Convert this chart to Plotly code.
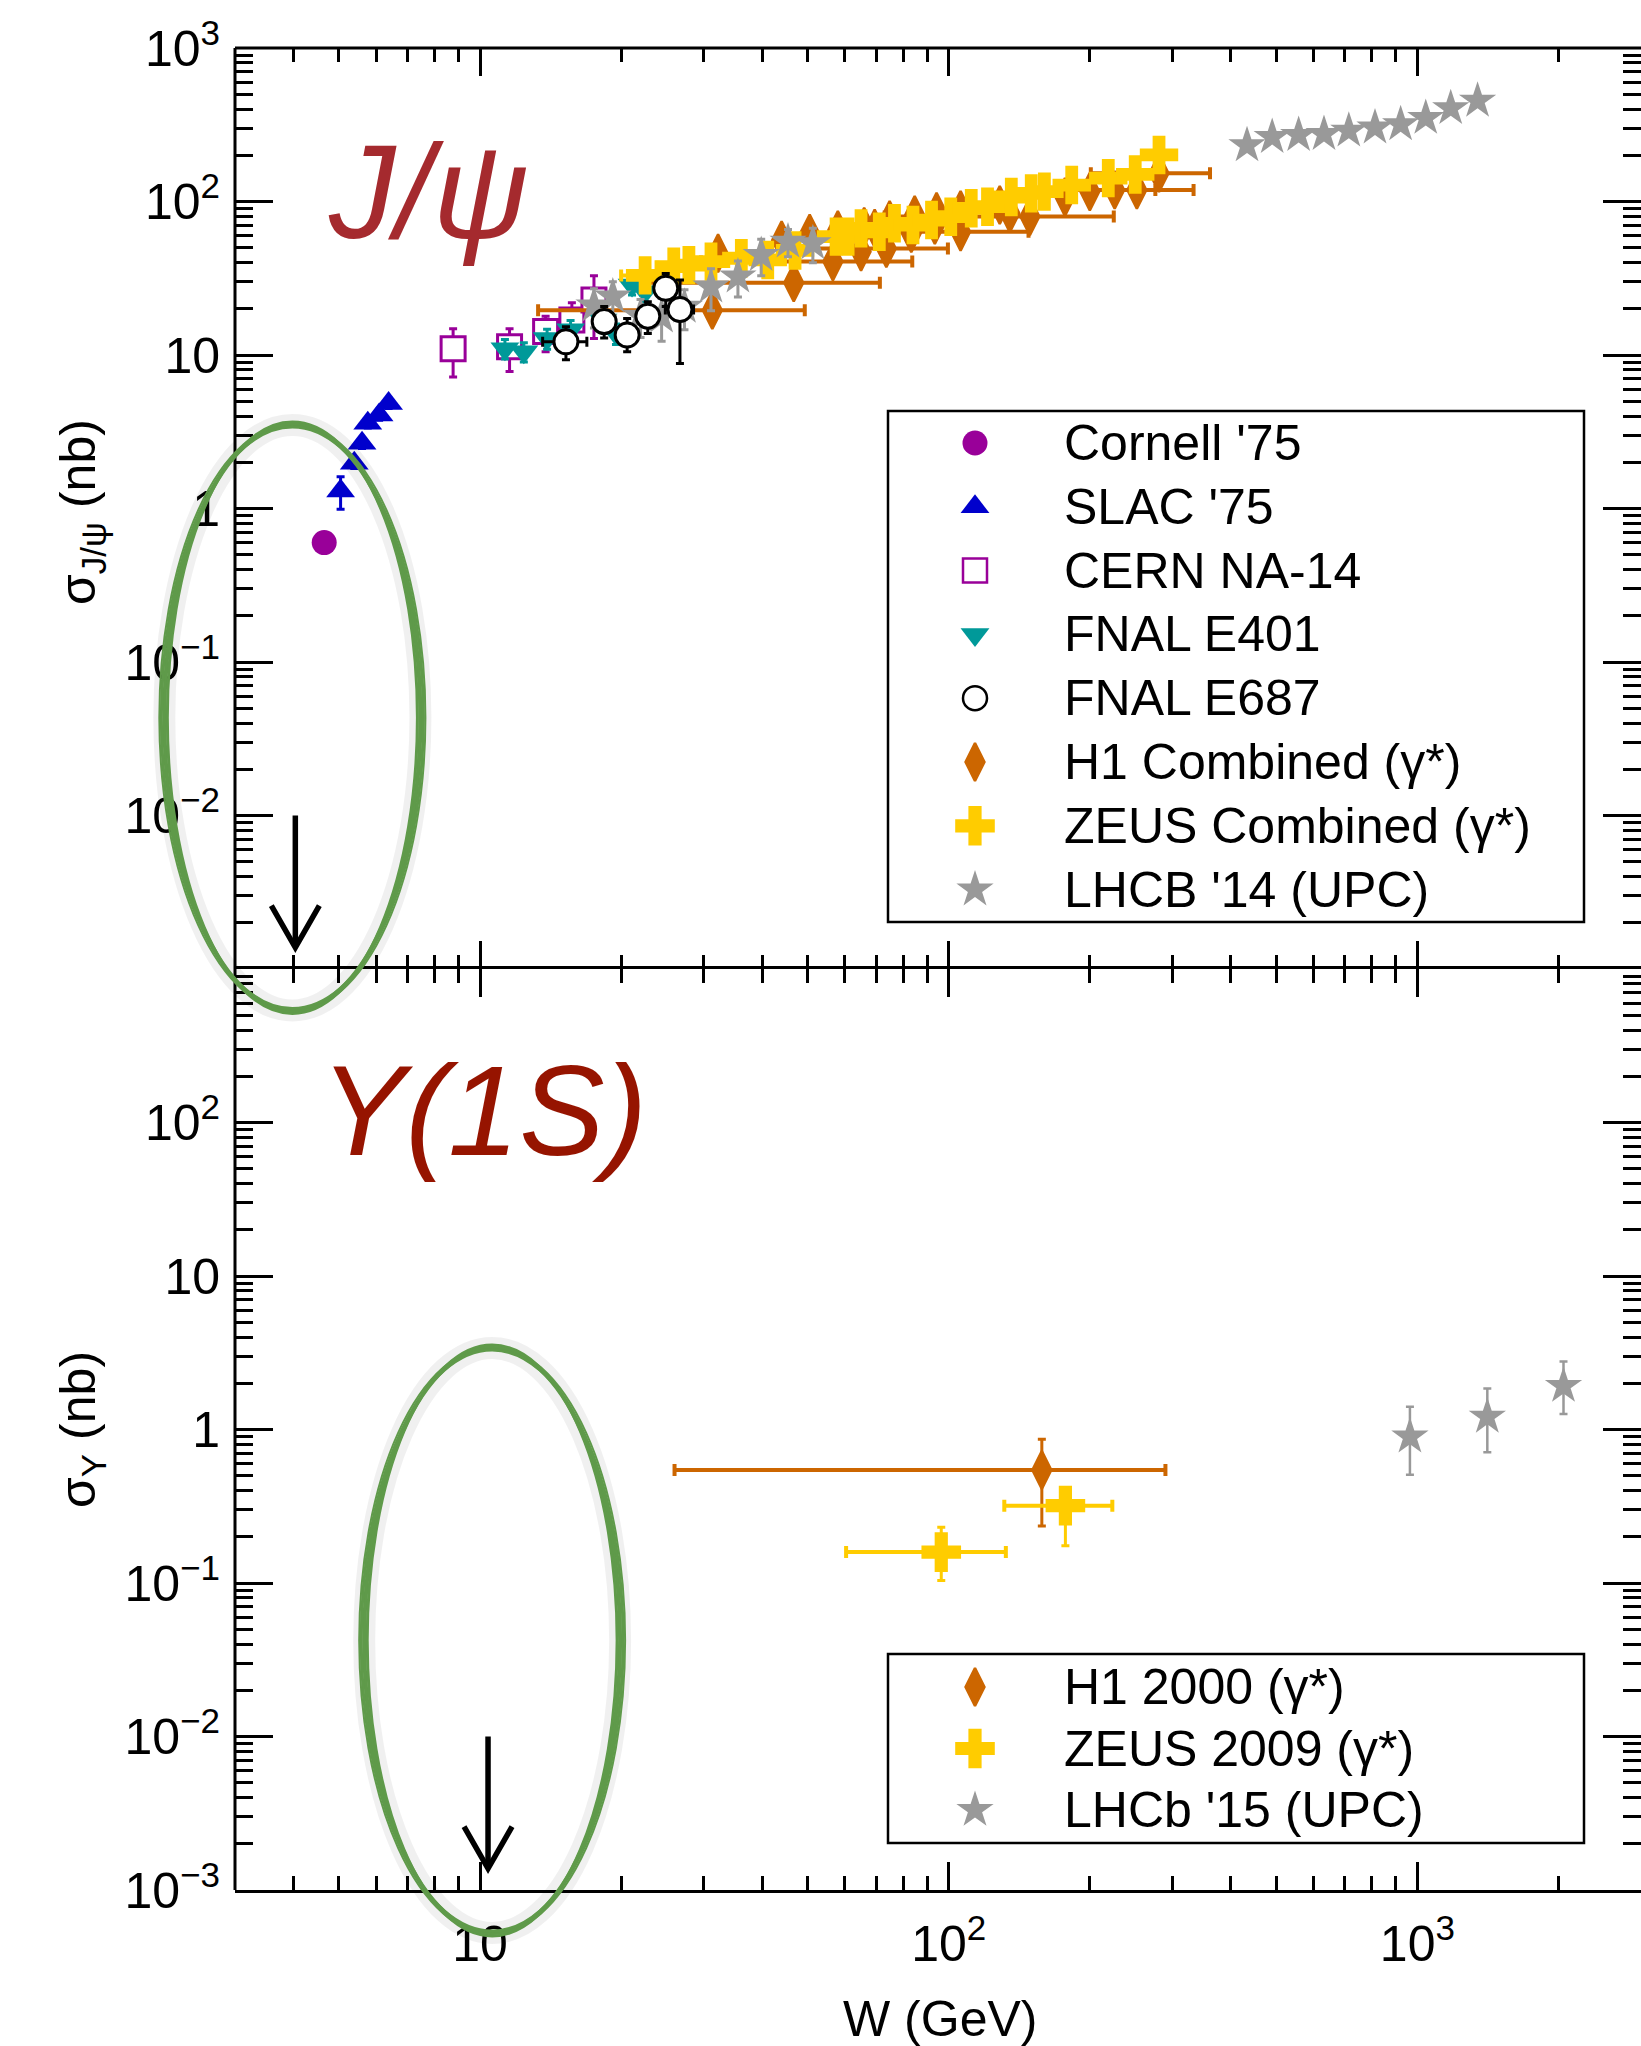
import numpy as np
import plotly.graph_objects as go

# ======================= DATA =======================
# ---- J/psi photoproduction ----
cornell_W = [4.65]
cornell_sig = [0.60]
cornell_err = [0.06]

slac_W = [5.04, 5.39, 5.60, 5.76, 6.09, 6.38]
slac_sig = [1.30, 1.97, 2.66, 3.59, 4.06, 4.84]
slac_err = [0.31, 0.15, 0.20, 0.25, 0.30, 0.35]

na14_W = [8.76, 11.56, 13.8, 15.7, 17.5]
na14_sig = [11.0, 11.3, 14.2, 16.9, 22.8]
na14_err = [3.8, 3.5, 3.7, 5.0, 10.0]

e401_W = [11.3, 12.4, 13.9, 15.6, 18.3, 19.5, 21.1, 22.5]
e401_sig = [11.0, 10.5, 12.8, 14.6, 16.9, 13.8, 28.6, 25.8]
e401_err = [1.6, 1.5, 1.9, 2.2, 2.5, 2.1, 4.0, 3.6]

e687_W = [15.25, 18.4, 20.6, 22.8, 24.9, 26.7]
e687_W_err = [1.65, 0.95, 1.0, 1.0, 1.0, 1.85]
e687_sig = [12.2, 16.5, 13.5, 17.9, 27.2, 19.8]
e687_err_up = [3.1, 4.2, 3.8, 4.3, 6.8, 11.0]
e687_err_dn = [2.9, 3.6, 3.0, 4.1, 6.5, 11.0]

h1_W = [31.3, 32.2, 44.0, 46.7, 50.5, 56.6, 58.0, 65.0, 66.0, 69.5, 73.6, 74.8, 83.2,
        84.6, 93.4, 94.2, 106.0, 106.0, 128.5, 135.0, 149.0, 177.0, 200.0, 226.0, 252.0, 281.0]
h1_W_err = [18.0, 0, 0, 24.6, 0, 27.0, 0, 0, 0, 0, 26.0, 0, 0,
            0, 0, 0, 42.0, 0, 0, 0, 76.0, 0, 0, 50.0, 81.0, 80.0]
h1_sig = [19.6, 46.0, 56.0, 29.6, 62.0, 40.6, 65.2, 47.1, 68.5, 66.8, 49.5, 75.7, 62.1,
          81.6, 70.3, 85.9, 63.5, 88.1, 94.8, 83.7, 80.0, 107.0, 116.0, 119.0, 119.0, 153.0]
h1_err = [1.6, 3.7, 4.5, 2.4, 5.0, 3.2, 5.2, 3.8, 5.5, 5.3, 4.0, 6.1, 5.0,
          6.5, 5.6, 6.9, 5.1, 7.0, 7.6, 6.7, 6.4, 8.6, 9.3, 9.5, 9.5, 12.2]

zeus_W = [22.5, 25.9, 27.9, 31.1, 36.1, 41.1, 47.0, 57.5, 61.0, 65.0, 71.1, 76.6,
          83.9, 91.9, 101.0, 111.7, 121.0, 136.0, 150.0, 160.0, 183.0, 219.0, 250.0, 281.0]
zeus_W_err = [2.5, 2.0, 0, 0, 0, 0, 0, 0, 0, 0, 0, 0,
              0, 0, 0, 0, 0, 0, 0, 0, 0, 0, 0, 0]
zeus_sig = [33.0, 37.6, 38.5, 40.6, 42.7, 41.6, 48.0, 59.0, 59.0, 66.8, 63.5, 72.1,
            70.3, 75.7, 79.6, 90.3, 92.5, 107.0, 113.0, 116.0, 128.0, 142.0, 150.0, 201.0]
zeus_err = [2.3, 2.6, 2.7, 2.8, 3.0, 2.9, 3.4, 4.1, 4.1, 4.7, 4.4, 5.0,
            4.9, 5.3, 5.6, 6.3, 6.5, 7.5, 7.9, 8.1, 9.0, 9.9, 10.5, 14.0]

lhcb14_W = [17.5, 19.2, 22.0, 24.4, 27.3, 31.1, 35.5, 39.8, 45.4, 51.3,
            433, 490, 558, 632, 714, 812, 921, 1042, 1178, 1344]
lhcb14_sig = [21.0, 24.0, 18.0, 17.8, 20.6, 27.9, 32.4, 44.8, 54.7, 53.4,
              232, 263, 271, 275, 289, 303, 318, 350, 405, 453]
lhcb14_err = [6.0, 6.0, 5.0, 5.5, 6.0, 8.5, 8.5, 12.0, 11.0, 13.5,
              12, 13, 13, 14, 14, 15, 16, 17, 20, 22]

# ---- Upsilon(1S) photoproduction ----
h1_2000_W = [158.0]
h1_2000_W_err = [132.0]
h1_2000_sig = [0.545]
h1_2000_err_up = [0.32]
h1_2000_err_dn = [0.31]

zeus09_W = [96.4, 177.4]
zeus09_W_err = [36.0, 46.0]
zeus09_sig = [0.159, 0.319]
zeus09_err_up = [0.072, 0.10]
zeus09_err_dn = [0.055, 0.144]

lhcb15_W = [964.0, 1410.0, 2050.0]
lhcb15_sig = [0.898, 1.21, 1.92]
lhcb15_err_up = [0.51, 0.64, 0.85]
lhcb15_err_dn = [0.39, 0.50, 0.66]

# threshold arrows (W = m_p + m_V) and the highlighted threshold regions
jpsi_threshold_W = 4.035
ups_threshold_W = 10.40
arrow_from_sig, arrow_to_sig = 1.0e-2, 1.38e-3
jpsi_ring_W, jpsi_ring_sig = (2.12, 7.46), (10 ** -3.27, 10 ** 0.544)
ups_ring_W, ups_ring_sig = (5.66, 19.9), (10 ** -3.28, 10 ** 0.531)

# axis ticks
x_major = [10, 100, 1000]
x_major_text = ["10", "10<sup>2</sup>", "10<sup>3</sup>"]
y_top_major = [1e-2, 1e-1, 1, 10, 100, 1000]
y_top_text = ["10<sup>\u22122</sup>", "10<sup>\u22121</sup>", "1", "10", "10<sup>2</sup>", "10<sup>3</sup>"]
y_bot_major = [1e-3, 1e-2, 1e-1, 1, 10, 100]
y_bot_text = ["10<sup>\u22123</sup>", "10<sup>\u22122</sup>", "10<sup>\u22121</sup>", "1", "10", "10<sup>2</sup>"]

# ======================= GEOMETRY / STYLE =======================
FIG_W, FIG_H = 1641, 2046
M_L, M_R, M_T, M_B = 235, 0, 48, 156
PLOT_W = FIG_W - M_L - M_R
PLOT_H = FIG_H - M_T - M_B
X_RANGE = [np.log10(3.0), np.log10(3000.0)]
Y_RANGE = [-3.0, 3.0]
TOP_DOM = [0.5, 1.0]
BOT_DOM = [0.0, 0.5]
FONT = "Liberation Sans, Arial, Helvetica, sans-serif"

PURPLE, BLUE, TEAL = "#990099", "#0000cc", "#009999"
ORANGE, YELLOW, GRAY = "#cc6600", "#ffcc00", "#999999"
GREEN = "#5f9a4a"

x_minor = [k * 10 ** n for n in range(0, 4) for k in range(2, 10) if 3 < k * 10 ** n < 3000]
y_minor = [k * 10.0 ** n for n in range(-3, 3) for k in range(2, 10)]


def paper_x(W):
    return (np.log10(W) - X_RANGE[0]) / (X_RANGE[1] - X_RANGE[0])


def paper_y(sig, dom):
    f = (np.log10(sig) - Y_RANGE[0]) / (Y_RANGE[1] - Y_RANGE[0])
    return dom[0] + f * (dom[1] - dom[0])


def px_x(px):
    return (px - M_L) / PLOT_W


def px_y(py):
    return (FIG_H - M_B - py) / PLOT_H


fig = go.Figure()


def add_series(W, sig, panel, symbol, color, size, err_up=None, err_dn=None, W_err=None,
               line_w=0, fill=None, ethick=3, ecap=4, xthick=4, xcap=6):
    xa, ya = ("x", "y") if panel == "top" else ("x2", "y2")
    marker = dict(symbol=symbol, size=size, color=fill if fill else color,
                  line=dict(width=line_w, color=color))
    kw = {}
    if err_up is not None:
        kw["error_y"] = dict(type="data", symmetric=err_dn is None, array=err_up,
                             arrayminus=err_dn if err_dn is not None else err_up,
                             color=color, thickness=ethick, width=ecap)
    if W_err is not None:
        kw["error_x"] = dict(type="data", array=W_err, color=color, thickness=xthick, width=xcap)
    fig.add_trace(go.Scatter(x=W, y=sig, mode="markers", marker=marker, xaxis=xa, yaxis=ya,
                             showlegend=False, **kw))


# ---- top panel (J/psi) ----
add_series(cornell_W, cornell_sig, "top", "circle", PURPLE, 25, cornell_err)
add_series(slac_W, slac_sig, "top", "triangle-up", BLUE, 25, slac_err)
add_series(na14_W, na14_sig, "top", "square", PURPLE, 24, na14_err, line_w=3, fill="white")
add_series(e401_W, e401_sig, "top", "triangle-down", TEAL, 25, e401_err)
add_series(h1_W, h1_sig, "top", "diamond-tall", ORANGE, 27, h1_err, W_err=h1_W_err, line_w=2.5)
add_series(zeus_W, zeus_sig, "top", "cross", YELLOW, 32, zeus_err, W_err=zeus_W_err)
add_series(lhcb14_W, lhcb14_sig, "top", "star", GRAY, 28, lhcb14_err)
add_series(e687_W, e687_sig, "top", "circle", "black", 24, e687_err_up, e687_err_dn,
           W_err=e687_W_err, line_w=3, fill="white", xthick=3, xcap=5)

# ---- bottom panel (Upsilon) ----
add_series(h1_2000_W, h1_2000_sig, "bot", "diamond-tall", ORANGE, 27, h1_2000_err_up, h1_2000_err_dn,
           W_err=h1_2000_W_err, line_w=2.5)
add_series(zeus09_W, zeus09_sig, "bot", "cross", YELLOW, 33, zeus09_err_up, zeus09_err_dn,
           W_err=zeus09_W_err)
add_series(lhcb15_W, lhcb15_sig, "bot", "star", GRAY, 28, lhcb15_err_up, lhcb15_err_dn, ethick=2.5)

# ======================= LEGENDS (drawn in an overlay frame) =======================
top_legend = [
    ("Cornell '75", "circle", PURPLE, 25, 0, None),
    ("SLAC '75", "triangle-up", BLUE, 25, 0, None),
    ("CERN NA-14", "square", PURPLE, 24, 2.5, "white"),
    ("FNAL E401", "triangle-down", TEAL, 25, 0, None),
    ("FNAL E687", "circle", "black", 24, 2.5, "white"),
    ("H1 Combined (\u03b3*)", "diamond-tall", ORANGE, 27, 2.5, None),
    ("ZEUS Combined (\u03b3*)", "cross", YELLOW, 33, 0, None),
    ("LHCB '14 (UPC)", "star", GRAY, 28, 0, None),
]
bot_legend = [
    ("H1 2000 (\u03b3*)", "diamond-tall", ORANGE, 27, 2.5, None),
    ("ZEUS 2009 (\u03b3*)", "cross", YELLOW, 33, 0, None),
    ("LHCb '15 (UPC)", "star", GRAY, 28, 0, None),
]
LEG_BOX_X = (888, 1584)
LEG_MARK_X, LEG_TEXT_X = 975, 1062
legends = [
    (top_legend, (411, 922), 443, 63.8),
    (bot_legend, (1654, 1843), 1687, 61.5),
]

annotations = []
shapes = []
for entries, (by0, by1), first_row, step in legends:
    shapes.append(dict(type="rect", xref="paper", yref="paper",
                       x0=px_x(LEG_BOX_X[0]), x1=px_x(LEG_BOX_X[1]),
                       y0=px_y(by1), y1=px_y(by0),
                       line=dict(color="black", width=2.5), fillcolor="white", layer="below"))
    for i, (label, sym, col, sz, lw, fill) in enumerate(entries):
        ry = px_y(first_row + i * step)
        fig.add_trace(go.Scatter(
            x=[px_x(LEG_MARK_X)], y=[ry], mode="markers", xaxis="x3", yaxis="y3",
            marker=dict(symbol=sym, size=sz, color=fill if fill else col, line=dict(width=lw, color=col)),
            showlegend=False, cliponaxis=False, hoverinfo="skip"))
        annotations.append(dict(text=label, xref="paper", yref="paper", x=px_x(LEG_TEXT_X), y=ry,
                                xanchor="left", yanchor="middle", showarrow=False,
                                font=dict(size=50, color="black", family=FONT)))

# ======================= TEXT LABELS =======================
annotations += [
    dict(text="<i>J/\u03c8</i>", xref="paper", yref="paper", x=px_x(428), y=px_y(192),
         xanchor="center", yanchor="middle", showarrow=False,
         font=dict(size=133, color="#a52a2e", family=FONT)),
    dict(text="<i>\u03a5(1S)</i>", xref="paper", yref="paper", x=px_x(483), y=px_y(1110),
         xanchor="center", yanchor="middle", showarrow=False,
         font=dict(size=128, color="#961400", family=FONT)),
    dict(text="\u03c3<sub>J/\u03c8</sub> (nb)", xref="paper", yref="paper", x=px_x(81), y=px_y(512),
         xanchor="center", yanchor="middle", textangle=-90, showarrow=False,
         font=dict(size=50, color="black", family=FONT)),
    dict(text="\u03c3<sub>\u03a5</sub> (nb)", xref="paper", yref="paper", x=px_x(81), y=px_y(1430),
         xanchor="center", yanchor="middle", textangle=-90, showarrow=False,
         font=dict(size=50, color="black", family=FONT)),
    dict(text="W (GeV)", xref="paper", yref="paper", x=px_x(940), y=px_y(2019),
         xanchor="center", yanchor="middle", showarrow=False,
         font=dict(size=50, color="black", family=FONT)),
]

# threshold arrows drawn as shapes: shaft + open chevron head
HEAD_HALF_W, HEAD_DEPTH = 24, 42  # px
for thr, dom in [(jpsi_threshold_W, TOP_DOM), (ups_threshold_W, BOT_DOM)]:
    ax_ = paper_x(thr)
    y_tail = paper_y(arrow_from_sig, dom)
    y_tip = paper_y(arrow_to_sig, dom)
    shapes.append(dict(type="line", xref="paper", yref="paper", x0=ax_, x1=ax_, y0=y_tail, y1=y_tip + 3 / PLOT_H,
                       line=dict(color="black", width=5.5), layer="above"))
    hw, hd = HEAD_HALF_W / PLOT_W, HEAD_DEPTH / PLOT_H
    shapes.append(dict(type="path", xref="paper", yref="paper",
                       path=f"M {ax_ - hw},{y_tip + hd} L {ax_},{y_tip} L {ax_ + hw},{y_tip + hd}",
                       line=dict(color="black", width=5.5), layer="above"))

# spines not drawn by the axes (left edge, very top); right spine lies on the canvas edge
shapes.append(dict(type="line", xref="paper", yref="paper", x0=0, x1=0, y0=0, y1=1,
                   line=dict(color="black", width=3), layer="above"))
shapes.append(dict(type="line", xref="paper", yref="paper", x0=0, x1=1, y0=1, y1=1,
                   line=dict(color="black", width=3), layer="above"))

# hand-drawn green rings marking the thresholds
for (wr, sr, dom) in [(jpsi_ring_W, jpsi_ring_sig, TOP_DOM), (ups_ring_W, ups_ring_sig, BOT_DOM)]:
    x0, x1 = paper_x(wr[0]), paper_x(wr[1])
    y0, y1 = paper_y(sr[0], dom), paper_y(sr[1], dom)
    shapes.append(dict(type="circle", xref="paper", yref="paper", x0=x0, x1=x1, y0=y0, y1=y1,
                       line=dict(color="rgba(0,0,0,0.06)", width=22), layer="above"))
    for dx, dy, w in [(0, 0, 4), (3, -2, 3), (-3, 3, 3), (5, 1, 2)]:
        ddx, ddy = dx / PLOT_W, dy / PLOT_H
        shapes.append(dict(type="circle", xref="paper", yref="paper",
                           x0=x0 - ddx, x1=x1 + ddx, y0=y0 - ddy, y1=y1 + ddy,
                           line=dict(color=GREEN, width=w), layer="above"))

# ======================= AXES =======================
tick_font = dict(size=50, color="black", family=FONT)
x_common = dict(type="log", range=X_RANGE, tickmode="array", tickvals=x_major, ticktext=x_major_text,
                ticks="inside", ticklen=28, tickwidth=2.5, tickcolor="black",
                linewidth=3, linecolor="black", mirror="ticks",
                showgrid=False, zeroline=False, tickfont=tick_font,
                minor=dict(tickmode="array", tickvals=x_minor, ticks="inside", ticklen=14,
                           tickwidth=2.5, tickcolor="black", showgrid=False))
y_common = dict(type="log", range=Y_RANGE, tickmode="array",
                ticks="inside", ticklen=38, tickwidth=2.5, tickcolor="black",
                showline=False, mirror="ticks", showgrid=False, zeroline=False, tickfont=tick_font,
                ticklabelstandoff=14,
                minor=dict(tickmode="array", tickvals=y_minor, ticks="inside", ticklen=18,
                           tickwidth=2.5, tickcolor="black", showgrid=False))

fig.update_layout(
    width=FIG_W, height=FIG_H, autosize=False,
    margin=dict(l=M_L, r=M_R, t=M_T, b=M_B, pad=0),
    paper_bgcolor="white", plot_bgcolor="rgba(0,0,0,0)",
    font=dict(family=FONT, color="black"),
    showlegend=False,
    xaxis=dict(x_common, domain=[0, 1], anchor="y", showticklabels=False, showline=False),
    yaxis=dict(y_common, domain=TOP_DOM, anchor="x", tickvals=y_top_major, ticktext=y_top_text),
    xaxis2=dict(x_common, domain=[0, 1], anchor="y2", showline=True, ticklabelstandoff=8),
    yaxis2=dict(y_common, domain=BOT_DOM, anchor="x2", tickvals=y_bot_major, ticktext=y_bot_text),
    xaxis3=dict(domain=[0, 1], range=[0, 1], visible=False, anchor="y3", fixedrange=True),
    yaxis3=dict(domain=[0, 1], range=[0, 1], visible=False, anchor="x3", fixedrange=True),
    annotations=annotations,
    shapes=shapes,
)

fig.write_html("out.html", include_plotlyjs=True, config={"displayModeBar": False},
               post_script="document.body.style.margin='0';document.body.style.overflow='hidden';")
